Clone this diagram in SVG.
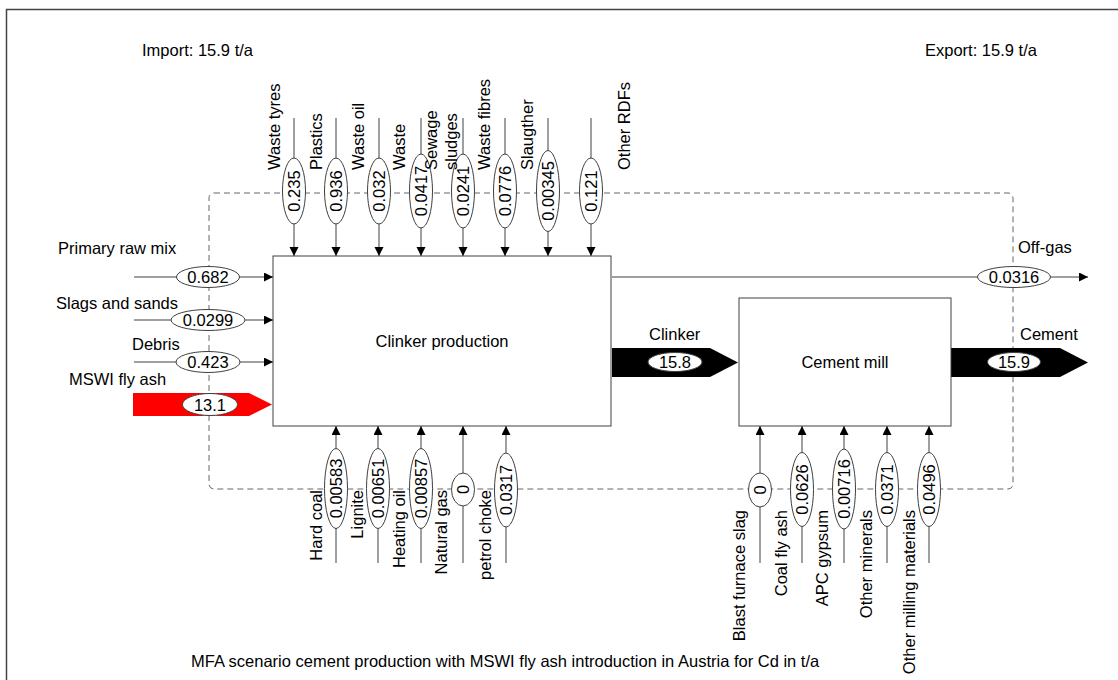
<svg xmlns="http://www.w3.org/2000/svg" width="1118" height="680" viewBox="0 0 1118 680">
<defs>
<style>
.t{font-family:"Liberation Sans",Arial,sans-serif;font-size:16.5px;fill:#000}
.m{text-anchor:middle}
.e{text-anchor:end}
.ln{stroke:#404040;stroke-width:1;fill:none}
.el{fill:#fff;stroke:#404040;stroke-width:1}
.bx{fill:#fff;stroke:#404040;stroke-width:1}
.dash{fill:none;stroke:#666;stroke-width:1;stroke-dasharray:6 4}
</style>
<marker id="ah" markerUnits="userSpaceOnUse" markerWidth="10" markerHeight="10" refX="9" refY="4.5" orient="auto">
<path d="M0,0 L9,4.5 L0,9 z" fill="#000"/>
</marker>
</defs>
<rect width="1118" height="680" fill="#fff"/>
<path d="M6.5,680 V9.5 H1118" fill="none" stroke="#444" stroke-width="1.5"/>

<text class="t" x="142" y="56">Import: 15.9 t/a</text>
<text class="t" x="925" y="56">Export: 15.9 t/a</text>

<rect id="boundary" class="dash" x="209" y="193" width="804" height="296" rx="5"/>

<g id="connectors">
<!-- top inputs -->
<line class="ln" x1="294" y1="118" x2="294" y2="256" marker-end="url(#ah)"/>
<line class="ln" x1="336" y1="118" x2="336" y2="256" marker-end="url(#ah)"/>
<line class="ln" x1="379" y1="118" x2="379" y2="256" marker-end="url(#ah)"/>
<line class="ln" x1="421" y1="118" x2="421" y2="256" marker-end="url(#ah)"/>
<line class="ln" x1="463" y1="118" x2="463" y2="256" marker-end="url(#ah)"/>
<line class="ln" x1="505" y1="118" x2="505" y2="256" marker-end="url(#ah)"/>
<line class="ln" x1="548" y1="118" x2="548" y2="256" marker-end="url(#ah)"/>
<line class="ln" x1="591" y1="118" x2="591" y2="256" marker-end="url(#ah)"/>
<!-- left inputs -->
<line class="ln" x1="134" y1="277" x2="273" y2="277" marker-end="url(#ah)"/>
<line class="ln" x1="134" y1="320" x2="273" y2="320" marker-end="url(#ah)"/>
<line class="ln" x1="134" y1="362" x2="273" y2="362" marker-end="url(#ah)"/>
<polygon points="133,393 249,393 272,404.5 249,416 133,416" fill="#f00"/>
<!-- bottom inputs clinker -->
<line class="ln" x1="336" y1="563" x2="336" y2="426" marker-end="url(#ah)"/>
<line class="ln" x1="378" y1="563" x2="378" y2="426" marker-end="url(#ah)"/>
<line class="ln" x1="421" y1="563" x2="421" y2="426" marker-end="url(#ah)"/>
<line class="ln" x1="463" y1="563" x2="463" y2="426" marker-end="url(#ah)"/>
<line class="ln" x1="506" y1="563" x2="506" y2="426" marker-end="url(#ah)"/>
<!-- bottom inputs cement mill -->
<line class="ln" x1="760" y1="563" x2="760" y2="426" marker-end="url(#ah)"/>
<line class="ln" x1="802" y1="563" x2="802" y2="426" marker-end="url(#ah)"/>
<line class="ln" x1="844" y1="563" x2="844" y2="426" marker-end="url(#ah)"/>
<line class="ln" x1="887" y1="563" x2="887" y2="426" marker-end="url(#ah)"/>
<line class="ln" x1="929" y1="563" x2="929" y2="426" marker-end="url(#ah)"/>
<!-- outputs -->
<line class="ln" x1="612" y1="277" x2="1088" y2="277" marker-end="url(#ah)"/>
<polygon points="612,348 710,348 738,362.5 710,377 612,377" fill="#000"/>
<polygon points="951,348 1060,348 1088,362.5 1060,377 951,377" fill="#000"/>
</g>

<g id="clinker-production">
<rect class="bx" x="273" y="256" width="338" height="170"/>
<text class="t m" x="442" y="347">Clinker production</text>
</g>
<g id="cement-mill">
<rect class="bx" x="739" y="298" width="212" height="128"/>
<text class="t m" x="845" y="368">Cement mill</text>
</g>

<g id="flow-labels">
<!-- top values -->
<g id="v-waste-tyres"><ellipse class="el" cx="294" cy="191" rx="11.5" ry="33"/><text class="t m" transform="translate(294,191) rotate(-90)" y="5.9">0.235</text><text class="t" transform="translate(280,170) rotate(-90)">Waste tyres</text></g>
<g id="v-plastics"><ellipse class="el" cx="336" cy="191" rx="11.5" ry="33"/><text class="t m" transform="translate(336,191) rotate(-90)" y="5.9">0.936</text><text class="t" transform="translate(322,170) rotate(-90)">Plastics</text></g>
<g id="v-waste-oil"><ellipse class="el" cx="379" cy="191" rx="11.5" ry="33"/><text class="t m" transform="translate(379,191) rotate(-90)" y="5.9">0.032</text><text class="t" transform="translate(364,170) rotate(-90)">Waste oil</text></g>
<g id="v-waste"><ellipse class="el" cx="421" cy="191" rx="11.5" ry="37"/><text class="t m" transform="translate(421,191) rotate(-90)" y="5.9">0.0417</text><text class="t" transform="translate(405,170) rotate(-90)">Waste</text></g>
<g id="v-sewage"><ellipse class="el" cx="463" cy="191" rx="11.5" ry="37"/><text class="t m" transform="translate(463,191) rotate(-90)" y="5.9">0.0241</text><text class="t" transform="translate(437,170) rotate(-90)">Sewage</text><text class="t" transform="translate(457,170) rotate(-90)">sludges</text></g>
<g id="v-waste-fibres"><ellipse class="el" cx="505" cy="191" rx="11.5" ry="37"/><text class="t m" transform="translate(505,191) rotate(-90)" y="5.9">0.0776</text><text class="t" transform="translate(490,170) rotate(-90)">Waste fibres</text></g>
<g id="v-slaugther"><ellipse class="el" cx="548" cy="191" rx="11.5" ry="40.5"/><text class="t m" transform="translate(548,191) rotate(-90)" y="5.9">0.00345</text><text class="t" transform="translate(533,170) rotate(-90)">Slaugther</text></g>
<g id="v-other-rdfs"><ellipse class="el" cx="591" cy="191" rx="11.5" ry="33"/><text class="t m" transform="translate(591,191) rotate(-90)" y="5.9">0.121</text><text class="t" transform="translate(630,170) rotate(-90)">Other RDFs</text></g>

<!-- left values -->
<g id="v-primary"><ellipse class="el" cx="208" cy="277" rx="31.5" ry="10.5"/><text class="t m" x="208" y="283">0.682</text><text class="t" x="58" y="254">Primary raw mix</text></g>
<g id="v-slags"><ellipse class="el" cx="208" cy="320" rx="37" ry="10.5"/><text class="t m" x="208" y="326">0.0299</text><text class="t" x="56" y="309">Slags and sands</text></g>
<g id="v-debris"><ellipse class="el" cx="208" cy="362" rx="32" ry="10.5"/><text class="t m" x="208" y="368">0.423</text><text class="t" x="132" y="350">Debris</text></g>
<g id="v-mswi"><ellipse class="el" cx="210" cy="404.5" rx="27.5" ry="11"/><text class="t m" x="210" y="410.5">13.1</text><text class="t" x="69" y="385">MSWI fly ash</text></g>

<!-- bottom clinker values -->
<g id="v-hard-coal"><ellipse class="el" cx="336" cy="488.5" rx="11.5" ry="40"/><text class="t m" transform="translate(336,488.5) rotate(-90)" y="5.9">0.00583</text><text class="t e" transform="translate(322,490) rotate(-90)">Hard coal</text></g>
<g id="v-lignite"><ellipse class="el" cx="378" cy="488.5" rx="11.5" ry="40"/><text class="t m" transform="translate(378,488.5) rotate(-90)" y="5.9">0.00651</text><text class="t e" transform="translate(363,490) rotate(-90)">Lignite</text></g>
<g id="v-heating-oil"><ellipse class="el" cx="421" cy="488.5" rx="11.5" ry="40"/><text class="t m" transform="translate(421,488.5) rotate(-90)" y="5.9">0.00857</text><text class="t e" transform="translate(405,490) rotate(-90)">Heating oil</text></g>
<g id="v-natural-gas"><ellipse class="el" cx="463" cy="489.5" rx="11.5" ry="16.5"/><text class="t m" transform="translate(463,489.5) rotate(-90)" y="5.9">0</text><text class="t e" transform="translate(447,490) rotate(-90)">Natural gas</text></g>
<g id="v-petrol"><ellipse class="el" cx="506" cy="490" rx="11.5" ry="37"/><text class="t m" transform="translate(506,490) rotate(-90)" y="5.9">0.0317</text><text class="t e" transform="translate(491,490) rotate(-90)">petrol choke</text></g>

<!-- bottom cement mill values -->
<g id="v-blast"><ellipse class="el" cx="760" cy="490" rx="11.5" ry="17"/><text class="t m" transform="translate(760,490) rotate(-90)" y="5.9">0</text><text class="t e" transform="translate(745,510) rotate(-90)">Blast furnace slag</text></g>
<g id="v-coal-fly-ash"><ellipse class="el" cx="802" cy="489.5" rx="11.5" ry="37"/><text class="t m" transform="translate(802,489.5) rotate(-90)" y="5.9">0.0626</text><text class="t e" transform="translate(787,510) rotate(-90)">Coal fly ash</text></g>
<g id="v-apc"><ellipse class="el" cx="844" cy="489" rx="11.5" ry="40"/><text class="t m" transform="translate(844,489) rotate(-90)" y="5.9">0.00716</text><text class="t e" transform="translate(828,510) rotate(-90)">APC gypsum</text></g>
<g id="v-other-minerals"><ellipse class="el" cx="887" cy="489.5" rx="11.5" ry="37"/><text class="t m" transform="translate(887,489.5) rotate(-90)" y="5.9">0.0371</text><text class="t e" transform="translate(872,510) rotate(-90)">Other minerals</text></g>
<g id="v-other-milling"><ellipse class="el" cx="929" cy="489.5" rx="11.5" ry="37"/><text class="t m" transform="translate(929,489.5) rotate(-90)" y="5.9">0.0496</text><text class="t e" transform="translate(915,510) rotate(-90)">Other milling materials</text></g>

<!-- outputs -->
<g id="v-offgas"><ellipse class="el" cx="1014" cy="277" rx="36.5" ry="10.5"/><text class="t m" x="1014" y="283">0.0316</text><text class="t" x="1018" y="253">Off-gas</text></g>
<g id="v-clinker"><ellipse class="el" cx="675" cy="362" rx="27" ry="9.5"/><text class="t m" x="675" y="368">15.8</text><text class="t" x="649" y="340">Clinker</text></g>
<g id="v-cement"><ellipse class="el" cx="1014" cy="362" rx="26.5" ry="9.5"/><text class="t m" x="1014" y="368">15.9</text><text class="t" x="1020" y="340">Cement</text></g>
</g>

<text class="t" x="191" y="667">MFA scenario cement production with MSWI fly ash introduction in Austria for Cd in t/a</text>
</svg>
